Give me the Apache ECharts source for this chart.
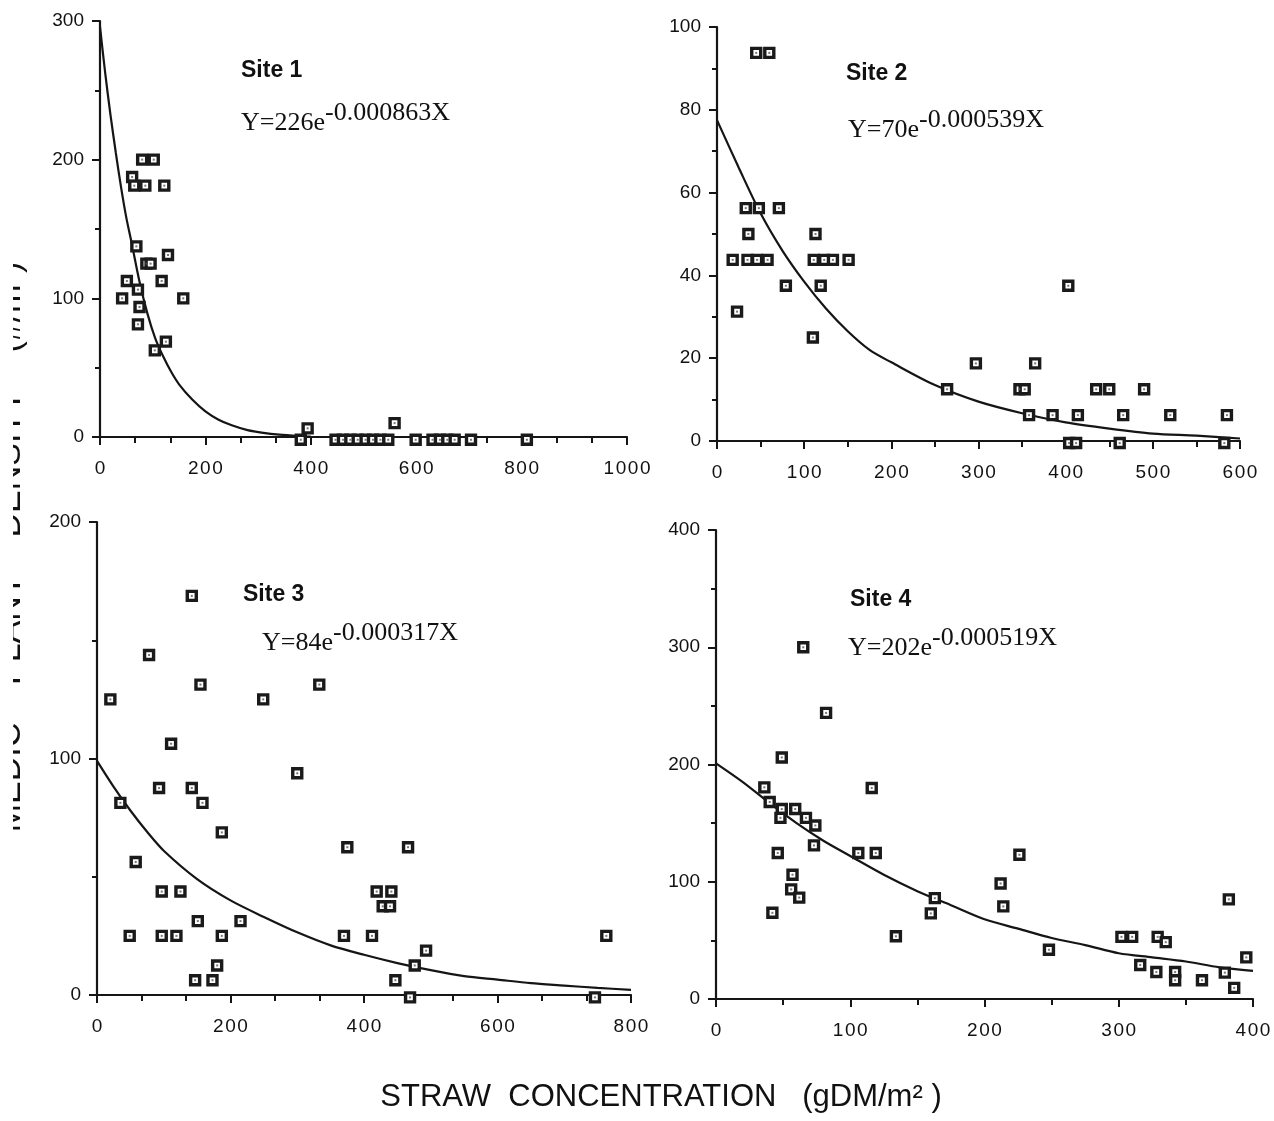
<!DOCTYPE html>
<html>
<head>
<meta charset="utf-8">
<script src="https://cdn.jsdelivr.net/npm/echarts@6/dist/echarts.min.js"></script>
<style>
html,body{margin:0;padding:0;background:#fff;}
#chart{width:1274px;height:1121px;}
</style>
</head>
<body>
<div id="chart"></div>
<script>
// ---------- DATA ----------
// Site 1
var s1X = [80,102,61,65,86,122,69,129,88,96,51,117,72,42,158,75,72,125,104,394,381,447,461,475,489,504,518,532,547,559,599,631,645,659,673,704,810];
var s1Y = [200,200,187.5,181.25,181.25,181.25,137.5,131.25,125,125,112.5,112.5,106.25,100,100,93.75,81.25,68.75,62.5,6.25,-2,-2,-2,-2,-2,-2,-2,-2,-2,10,-2,-2,-2,-2,-2,-2,-2];
var c1X = [0,10,20,30,40,50,60,75,90,105,120,135,150,175,200,225,250,280,310,340,380,400];
var c1Y = [296,262,232,205,180,158,140,112,89,71,58,47,38,27,18.5,12.5,8.5,5,3,1.7,0.6,0.2];
// Site 2
var s2X = [45,60,33,48,71,36,18,35,46,58,79,23,113,111,123,133,151,119,110,264,297,347,353,365,358,385,414,403,435,450,490,466,520,585,404,412,462,582];
var s2Y = [93.75,93.75,56.25,56.25,56.25,50,43.75,43.75,43.75,43.75,37.5,31.25,50,43.75,43.75,43.75,43.75,37.5,25,12.5,18.75,12.5,12.5,18.75,6.25,6.25,6.25,37.5,12.5,12.5,12.5,6.25,6.25,6.25,-0.5,-0.5,-0.5,-0.5];
var c2X = [0,25,50,75,100,125,150,175,200,250,300,350,400,450,500,550,600];
var c2Y = [77.5,66,55,46,38.5,32,26.5,22,19,13.5,9.5,6.7,4.5,3,1.8,1.3,0.6];
// Site 3
var s3X = [142,78,20,155,249,333,111,300,93,142,35,158,187,375,466,58,97,125,419,441,428,439,151,215,49,97,119,187,370,412,763,493,180,476,147,173,447,469,746];
var s3Y = [168.75,143.75,125,131.25,125,131.25,106.25,93.75,87.5,87.5,81.25,81.25,68.75,62.5,62.5,56.25,43.75,43.75,43.75,43.75,37.5,37.5,31.25,31.25,25,25,25,25,25,25,25,18.75,12.5,12.5,6.25,6.25,6.25,-1,-1];
var c3X = [0,25,50,75,100,150,200,250,300,350,400,450,500,550,600,650,700,750,800];
var c3Y = [99,88,78,69,61,49,40,33,26.5,21,17,13.5,10.5,8,6.5,5,4,3,2.2];
// Site 4
var s4X = [65,82,49,36,116,40,49,59,48,67,74,73,46,106,119,226,57,56,62,42,212,214,163,160,134,248,302,310,329,335,382,395,316,328,342,342,362,379,386];
var s4Y = [300,244,206,180.5,180,168,162,162,154.5,154.5,148,131,124.5,124.5,124.5,123,106,93.5,86.5,73.5,98.5,79,86,73,53.5,42,53,53,53,48.5,85,35.5,29,23,23,16,16,22.5,9.5];
var c4X = [0,20,40,60,80,100,125,150,175,200,225,250,275,300,325,350,375,400];
var c4Y = [201,185,167,150,135,122,106,92,80,68,60,52,46,39,35.5,32,27,24];
// Axes
var xMax = [1000, 600, 800, 400];
var xStep = [200, 100, 200, 100];
var xMinor = [3, 2, 3, 2];
var yMax = [300, 100, 200, 400];
var yStep = [100, 20, 100, 100];
var yMinor = [2, 2, 2, 2];
var siteNames = ['Site 1', 'Site 2', 'Site 3', 'Site 4'];
var eqBase = ['Y=226e', 'Y=70e', 'Y=84e', 'Y=202e'];
var eqExp = ['-0.000863X', '-0.000539X', '-0.000317X', '-0.000519X'];
var xTitle = 'STRAW  CONCENTRATION   (gDM/m\u00B2 )';
var yTitle = 'MEDIC    PLANT    DENSITY    (#/m\u00B2)';

// ---------- LAYOUT ----------
var grids = [
  {left:100, top:21, width:527, height:416},
  {left:717, top:27, width:523, height:414},
  {left:97, top:522, width:534, height:473},
  {left:716, top:530, width:537, height:469}
];
var siteLabelPos = [[241,59],[846,62],[243,583],[850,588]];
var eqPos = [[241,100],[848,107],[262,620],[848,625]];

function zip(a, b){ var r=[]; for (var i=0;i<a.length;i++) r.push([a[i], b[i]]); return r; }
var pts = [zip(s1X,s1Y), zip(s2X,s2Y), zip(s3X,s3Y), zip(s4X,s4Y)];
var curves = [zip(c1X,c1Y), zip(c2X,c2Y), zip(c3X,c3Y), zip(c4X,c4Y)];

var ink = '#151515';
var xAxes = [], yAxes = [], series = [], graphics = [];
for (var i=0;i<4;i++){
  xAxes.push({
    gridIndex:i, type:'value', min:0, max:xMax[i], interval:xStep[i],
    axisLine:{show:true, onZero:false, lineStyle:{color:ink, width:2.2}},
    axisTick:{show:true, inside:false, length:8, lineStyle:{color:ink, width:2}},
    minorTick:{show:true, splitNumber:xMinor[i], length:6, lineStyle:{color:ink, width:2}},
    splitLine:{show:false}, minorSplitLine:{show:false},
    axisLabel:{color:'#111', fontFamily:'Liberation Sans', fontSize:19, margin:22,
      formatter:function(v){ return String(v).split('').join('\u200A'); }}
  });
  yAxes.push({
    gridIndex:i, type:'value', min:0, max:yMax[i], interval:yStep[i],
    axisLine:{show:true, onZero:false, lineStyle:{color:ink, width:2.2}},
    axisTick:{show:true, inside:false, length:8, lineStyle:{color:ink, width:2}},
    minorTick:{show:true, splitNumber:yMinor[i], length:5, lineStyle:{color:ink, width:2}},
    splitLine:{show:false}, minorSplitLine:{show:false},
    axisLabel:{color:'#111', fontFamily:'Liberation Sans', fontSize:19, margin:16,
      formatter:function(v){ return String(v); }}
  });
  series.push({
    type:'line', xAxisIndex:i, yAxisIndex:i, data:curves[i], smooth:0.3, clip:false,
    showSymbol:false, symbol:'none', lineStyle:{color:ink, width:2.2}, z:2, silent:true
  });
  series.push({
    type:'scatter', xAxisIndex:i, yAxisIndex:i, data:pts[i], symbol:'rect', symbolSize:9, clip:false,
    itemStyle:{color:'#fff', borderColor:'#1a1a1a', borderWidth:3.4, opacity:1}, z:3, silent:true
  });
  series.push({
    type:'scatter', xAxisIndex:i, yAxisIndex:i, data:pts[i], symbol:'rect', symbolSize:2, clip:false,
    itemStyle:{color:'#555'}, z:4, silent:true
  });
  graphics.push({
    type:'text', x:siteLabelPos[i][0], y:siteLabelPos[i][1], z:10,
    style:{text:siteNames[i], fill:'#111', font:'bold 23px "Liberation Sans"'}
  });
  graphics.push({
    type:'text', x:eqPos[i][0], y:eqPos[i][1], z:10,
    style:{
      text:'{b|'+eqBase[i]+'}{s|'+eqExp[i]+'}', fill:'#111',
      rich:{
        b:{fontFamily:'Liberation Serif', fontSize:26, lineHeight:36, verticalAlign:'bottom', fill:'#111'},
        s:{fontFamily:'Liberation Serif', fontSize:26, lineHeight:22, verticalAlign:'top', fill:'#111'}
      }
    }
  });
}
graphics.push({
  type:'text', x:661, y:1097, z:10,
  style:{text:xTitle, fill:'#111', font:'31px "Liberation Sans"', align:'center', verticalAlign:'middle', textAlign:'center', textVerticalAlign:'middle'}
});
graphics.push({
  type:'text', x:28, y:547, rotation:Math.PI/2, z:10,
  style:{text:yTitle, fill:'#111', font:'34px "Liberation Sans"', align:'center', verticalAlign:'bottom', textAlign:'center', textVerticalAlign:'bottom'}
});
graphics.push({
  type:'rect', shape:{x:0, y:0, width:13, height:1121}, z:20,
  style:{fill:'#fff'}
});

var chart = echarts.init(document.getElementById('chart'), null, {renderer:'canvas'});
chart.setOption({
  animation:false,
  backgroundColor:'#fff',
  grid:grids,
  xAxis:xAxes,
  yAxis:yAxes,
  series:series,
  graphic:{elements:graphics}
});
</script>
</body>
</html>
